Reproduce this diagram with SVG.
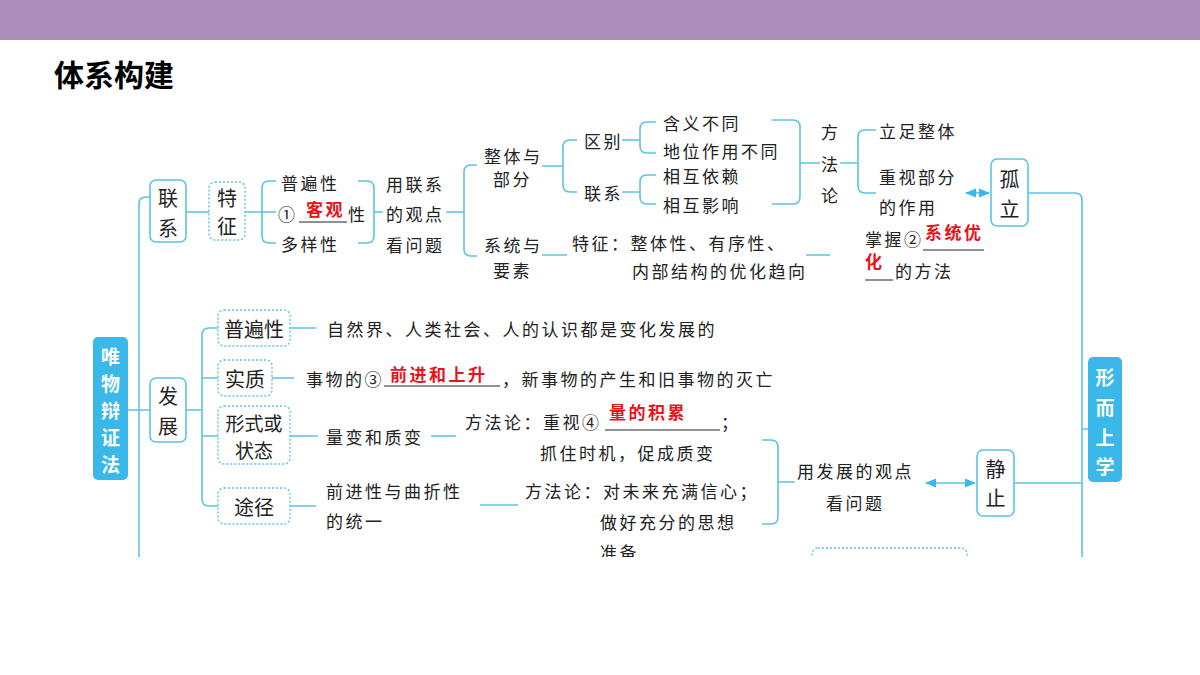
<svg xmlns="http://www.w3.org/2000/svg" width="1200" height="675" viewBox="0 0 1200 675">
<defs>
<style>
.l{fill:none;stroke:#5cc3e4;stroke-width:1.6}
.b{fill:#fff;stroke:#5cc3e4;stroke-width:1.6}
.d{fill:#fff;stroke:#5cc3e4;stroke-width:1.4;stroke-dasharray:2 2}
.f{fill:#3bb8ea}
text{font-family:"Noto Sans CJK SC","Noto Sans",sans-serif;font-size:17px;fill:#222;dominant-baseline:central;letter-spacing:2.5px}
.w{fill:#fff;font-weight:bold;font-size:19px;text-anchor:middle;letter-spacing:0}
.n{font-size:20px;text-anchor:middle;letter-spacing:0}
.r{fill:#e8131b;font-weight:bold}
.u{stroke:#222;stroke-width:1.2}
</style>
<marker id="ah" viewBox="0 0 10 10" refX="9" refY="5" markerWidth="7" markerHeight="7" orient="auto-start-reverse"><path d="M0,1 L10,5 L0,9 Z" fill="#3bb8ea"/></marker>
<clipPath id="cut"><rect x="0" y="0" width="1200" height="557"/></clipPath>
</defs>
<rect x="0" y="0" width="1200" height="40" fill="#ad8fbc"/>
<text x="54" y="73" style="font-size:30px;font-weight:bold;fill:#000;letter-spacing:0">体系构建</text>
<g clip-path="url(#cut)">
<g id="connectors">
<path class="l" d="M150,197 H146 Q139,197 139,204 V600"/>
<path class="l" d="M128,410 H150 M186,410 H202 M218,328 H209 Q202,328 202,335 V499 Q202,506 209,506 H218 M202,378 H218 M202,436 H218"/>
<path class="l" d="M186,212 H209 M245,212 H276 M276,181 H269 Q262,181 262,188 V236 Q262,243 269,243 H276"/>
<path class="l" d="M358,181 H367 Q374,181 374,188 V236 Q374,243 367,243 H358 M374,212 H383"/>
<path class="l" d="M446,212 H464 M477,165 H471 Q464,165 464,172 V249 Q464,256 471,256 H477"/>
<path class="l" d="M542,166 H563 M577,140 H570 Q563,140 563,147 V185 Q563,192 570,192 H577"/>
<path class="l" d="M622,140 H640 M656,122 H647 Q640,122 640,129 V146 Q640,153 647,153 H656 M622,192 H640 M656,175 H647 Q640,175 640,182 V197 Q640,204 647,204 H656"/>
<path class="l" d="M772,120 H793 Q800,120 800,127 V197 Q800,204 793,204 H772 M800,163 H820"/>
<path class="l" d="M840,163 H858 M876,130 H865 Q858,130 858,137 V186 Q858,193 865,193 H876"/>
<path class="l" d="M542,255 H567 M806,255 H830"/>
<path class="l" d="M290,328 H316 M272,378 H294 M290,436 H318 M431,436 H456 M290,506 H316 M480,505 H518"/>
<path class="l" d="M762,440 H771 Q778,440 778,447 V517 Q778,524 771,524 H762 M778,482 H795"/>
<path class="l" d="M1028,193 H1075 Q1082,193 1082,200 V600 M1082,429 H1088 M1014,483 H1082"/>
<path class="l" marker-start="url(#ah)" marker-end="url(#ah)" d="M966,193 H989"/>
<path class="l" marker-start="url(#ah)" marker-end="url(#ah)" d="M926,483 H975"/>
<path class="u" d="M299,222 H347 M384,386 H500 M605,430 H720 M923,250 H984 M865,280 H893"/>
</g>
<g id="n-root"><rect class="f" x="93" y="337" width="35" height="143" rx="5"/><text class="w" x="110.5" y="355">唯</text><text class="w" x="110.5" y="382">物</text><text class="w" x="110.5" y="409">辩</text><text class="w" x="110.5" y="436">证</text><text class="w" x="110.5" y="463">法</text></g>
<g id="n-meta"><rect class="f" x="1088" y="357" width="34" height="125" rx="5"/><text class="w" x="1105" y="376">形</text><text class="w" x="1105" y="406">而</text><text class="w" x="1105" y="436">上</text><text class="w" x="1105" y="465">学</text></g>
<g id="n-lianxi"><rect class="b" x="150" y="180" width="36" height="62" rx="6"/><text class="n" x="168" y="197">联</text><text class="n" x="168" y="227">系</text></g>
<g id="n-tezheng"><rect class="d" x="209" y="182" width="36" height="58" rx="6"/><text class="n" x="227" y="197">特</text><text class="n" x="227" y="225">征</text></g>
<g id="n-feat"><text x="281" y="182">普遍性</text><text x="278" y="213">①</text><text class="r" x="306" y="208">客观</text><text x="348" y="213">性</text><text x="281" y="243">多样性</text></g>
<g id="n-view1"><text x="386" y="183">用联系</text><text x="386" y="213">的观点</text><text x="386" y="244">看问题</text></g>
<g id="n-zt"><text x="484" y="155">整体与</text><text x="493" y="178">部分</text></g>
<g id="n-xt"><text x="484" y="244">系统与</text><text x="493" y="269">要素</text></g>
<g id="n-qb"><text x="584" y="140">区别</text><text x="584" y="192">联系</text></g>
<g id="n-qb2"><text x="663" y="122">含义不同</text><text x="663" y="150">地位作用不同</text><text x="663" y="175">相互依赖</text><text x="663" y="204">相互影响</text></g>
<g id="n-ffl"><text x="821" y="131">方</text><text x="821" y="163">法</text><text x="821" y="194">论</text></g>
<g id="n-ffl2"><text x="879" y="130">立足整体</text><text x="879" y="176">重视部分</text><text x="879" y="206">的作用</text></g>
<g id="n-guli"><rect class="b" x="991" y="159" width="37" height="67" rx="6"/><text class="n" x="1009.5" y="178">孤</text><text class="n" x="1009.5" y="208">立</text></g>
<g id="n-xttz"><text x="572" y="242">特征：整体性、有序性、</text><text x="632" y="270">内部结构的优化趋向</text></g>
<g id="n-zw"><text x="865" y="238">掌握②</text><text class="r" x="925" y="231">系统优</text><text class="r" x="865" y="260">化</text><text x="895" y="270">的方法</text></g>
<g id="n-fazhan"><rect class="b" x="150" y="378" width="36" height="64" rx="6"/><text class="n" x="168" y="395">发</text><text class="n" x="168" y="425">展</text></g>
<g id="n-pbx"><rect class="d" x="218" y="310" width="72" height="36" rx="6"/><text class="n" x="254" y="328">普遍性</text><text x="327" y="328">自然界、人类社会、人的认识都是变化发展的</text></g>
<g id="n-sz"><rect class="d" x="218" y="360" width="54" height="36" rx="6"/><text class="n" x="245" y="378">实质</text><text x="306" y="378">事物的③</text><text class="r" x="390" y="373">前进和上升</text><text x="502" y="378">，新事物的产生和旧事物的灭亡</text></g>
<g id="n-xs"><rect class="d" x="218" y="406" width="72" height="58" rx="6"/><text class="n" x="254" y="422" style="font-size:19px">形式或</text><text class="n" x="254" y="449" style="font-size:19px">状态</text><text x="326" y="436">量变和质变</text><text x="465" y="421">方法论：重视④</text><text class="r" x="609" y="411">量的积累</text><text x="721" y="421">；</text><text x="540" y="452">抓住时机，促成质变</text></g>
<g id="n-tj"><rect class="d" x="218" y="488" width="72" height="36" rx="6"/><text class="n" x="254" y="506">途径</text><text x="326" y="490">前进性与曲折性</text><text x="326" y="520">的统一</text><text x="525" y="490">方法论：对未来充满信心；</text><text x="600" y="521">做好充分的思想</text><text x="600" y="551">准备</text></g>
<g id="n-view2"><text x="797" y="470">用发展的观点</text><text x="826" y="502">看问题</text></g>
<g id="n-jz"><rect class="b" x="977" y="450" width="37" height="66" rx="6"/><text class="n" x="995.5" y="468">静</text><text class="n" x="995.5" y="497">止</text></g>
<g id="n-bottom"><rect class="d" x="812" y="548" width="155" height="40" rx="6"/></g>
</g>
</svg>
